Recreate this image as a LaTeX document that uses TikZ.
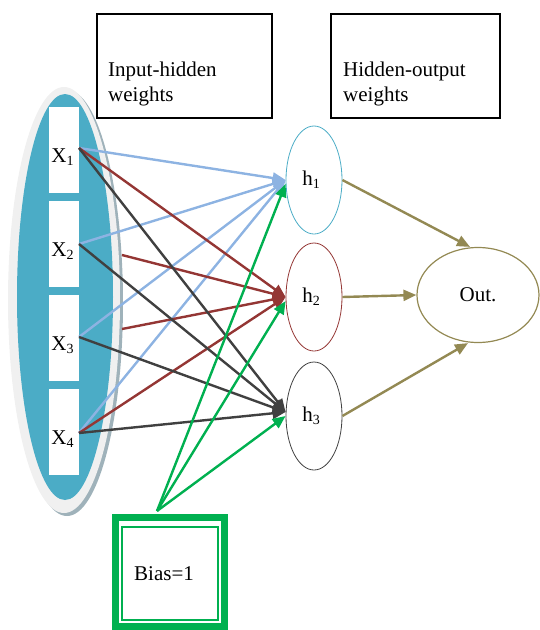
\documentclass[tikz,border=0pt]{standalone}
\usepackage{fontspec}
\setmainfont{Liberation Serif}
\usetikzlibrary{shapes.geometric,arrows.meta}
\definecolor{inblue}{HTML}{4BACC6}
\definecolor{lblue}{HTML}{8DB3E2}
\definecolor{dred}{HTML}{943634}
\definecolor{dgrey}{HTML}{404040}
\definecolor{bgreen}{HTML}{00B050}
\definecolor{olive}{HTML}{938953}
\definecolor{ringgrey}{HTML}{F0F0F0}
\definecolor{shadegrey}{HTML}{9FB2BA}
\newcommand\lowsub[1]{\raisebox{-0.35ex}{\fontsize{14}{14}\selectfont #1}}
\newcommand\xlab[1]{\hspace*{-3pt}\raisebox{-12pt}[0pt][0pt]{X\lowsub{#1}}}
\tikzset{
  wbox/.style={shape=rectangle, fill=white, minimum width=30pt, minimum height=86pt, inner sep=0pt},
  hid/.style={shape=ellipse, draw, line width=0.8pt, minimum width=56pt, minimum height=108pt, inner sep=0pt},
  lnk/.style={line width=2.4pt},
  wtbox/.style={shape=rectangle, draw=black, line width=1.5pt, minimum height=104pt},
}

\begin{document}
\begin{tikzpicture}[x=1pt, y=-1pt, font=\fontsize{21}{25}\selectfont, >={Triangle[length=13pt,width=11pt]}]
			\useasboundingbox (0,0) rectangle (539,630);
			
			\node[wtbox, minimum width=175pt] (ihw) at (184.5,66) {};
			\node[wtbox, minimum width=169pt] (how) at (415.5,66) {};
			\node[anchor=north west, align=left, inner sep=0pt] (ihwtext) at (108,62) {Input-hidden\\weights};
			\node[anchor=north west, align=left, inner sep=0pt] (howtext) at (343,62) {Hidden-output\\weights};
			
			\node[shape=ellipse, fill=shadegrey, minimum width=112pt, minimum height=426pt] (shade) at (67,303) {};
			\node[shape=ellipse, fill=ringgrey, minimum width=112pt, minimum height=426pt] (ring) at (64,300) {};
			\node[shape=ellipse, fill=inblue, minimum width=96pt, minimum height=406pt] (inl) at (65,297) {};
			\node[wbox] (b1) at (64,150) {\xlab{1}};
			\node[wbox] (b2) at (64,244) {\xlab{2}};
			\node[wbox] (b3) at (64,338) {\xlab{3}};
			\node[wbox] (b4) at (64,432) {\xlab{4}};
			
			\node[hid, draw=inblue] (h1) at (314,180) {\hspace*{-6pt}h\lowsub{1}};
			\node[hid, draw=dred] (h2) at (314,297) {\hspace*{-6pt}h\lowsub{2}};
			\node[hid, draw=dgrey] (h3) at (314,416) {\hspace*{-6pt}h\lowsub{3}};
			\node[shape=ellipse, draw=olive, line width=1.2pt, minimum width=122pt, minimum height=95pt] (out) at (478,295) {Out.};
			
			\node[draw=bgreen, line width=7pt, minimum width=109pt, minimum height=109pt, inner sep=0pt] (biasout) at (170,572) {};
			\node[draw=bgreen, line width=1.5pt, minimum width=96pt, minimum height=93pt] (bias) at (170,573.5) {\hspace*{-12pt}Bias=1};
			
			\coordinate (p1) at (79,148);
			\coordinate (p2) at (79,244);
			\coordinate (p3) at (79,337);
			\coordinate (p4) at (79,433);
			\coordinate (r2) at (122,255);
			\coordinate (r3) at (122,329);
			\coordinate (bt) at ([xshift=-13pt,yshift=3pt]biasout.north);
			
			\path [->, lnk, lblue] (p1) edge (h1.west);
			\path [->, lnk, lblue] (p2) edge (h1.west);
			\path [->, lnk, lblue] (p3) edge (h1.west);
			\path [->, lnk, lblue] (p4) edge (h1.west);
			\path [->, lnk, dred] (p1) edge (h2.west);
			\path [->, lnk, dred] (r2) edge (h2.west);
			\path [->, lnk, dred] (r3) edge (h2.west);
			\path [->, lnk, dred] (p4) edge (h2.west);
			\path [->, lnk, dgrey] (p1) edge ([yshift=4pt]h3.west);
			\path [->, lnk, dgrey] (p2) edge ([yshift=4pt]h3.west);
			\path [->, lnk, dgrey] (p3) edge ([yshift=4pt]h3.west);
			\path [->, lnk, dgrey] (p4) edge ([yshift=4pt]h3.west);
			\path [->, lnk, bgreen] (bt) edge ([yshift=-4pt]h1.west);
			\path [->, lnk, bgreen] (bt) edge ([yshift=-4pt]h2.west);
			\path [->, lnk, bgreen] (bt) edge (h3.west);
			
			\path [->, lnk, olive] (h1.east) edge ([xshift=-8pt]out.north);
			\path [->, lnk, olive] (h2.east) edge (out.west);
			\path [->, lnk, olive] (h3.east) edge ([xshift=-10pt]out.south);
		\end{tikzpicture}
\end{document}
